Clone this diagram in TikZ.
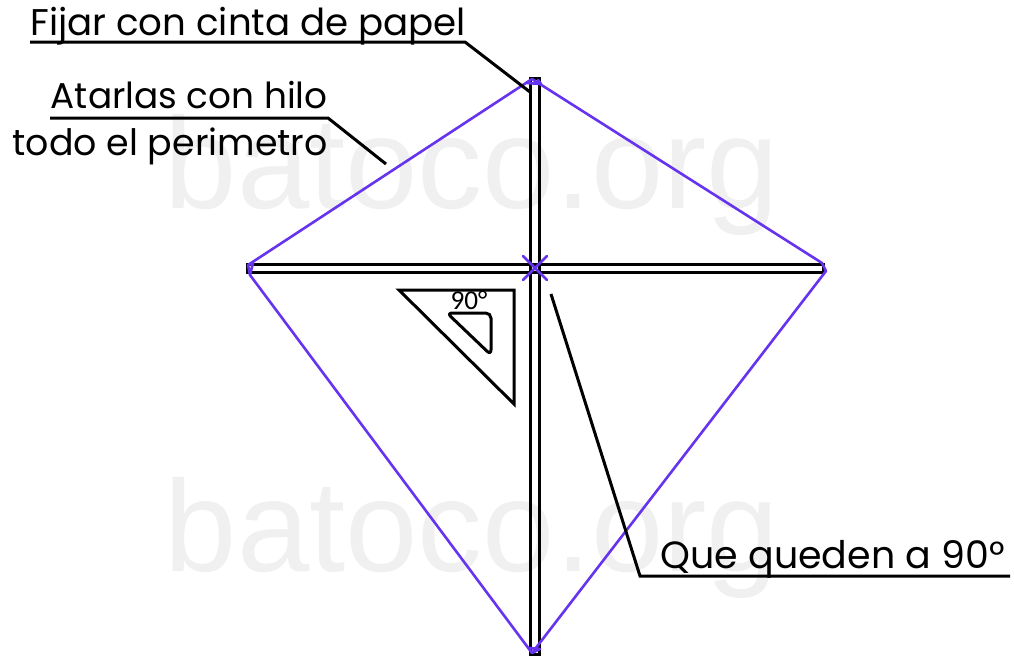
\documentclass[tikz,border=0pt]{standalone}
\usepackage{fontspec}
\setmainfont{Poppins}
\newfontfamily\aguafont{Liberation Sans}
\newfontfamily\angfont{Carlito}
\usepackage{xcolor}
\usetikzlibrary{positioning}
\definecolor{hilo}{HTML}{6633EE}
\definecolor{marca}{HTML}{F0F0F0}
\begin{document}
\begin{tikzpicture}[x=0.02cm,y=-0.02cm,
  every node/.style={inner sep=0pt},
  rotulo/.style={font=\fontsize{#1}{24}\selectfont,text=black},
  agua/.style={font=\aguafont\fontsize{74}{80}\selectfont,text=marca},
  linea/.style={draw=black,line width=0.06cm},
  cuerda/.style={draw=hilo,line width=0.052cm,line cap=round,line join=round}]
  \useasboundingbox (0,0) rectangle (1014,657);
  % marcas de agua
  \node[agua,anchor=base] (agua1) at (472,208) {batoco.org};
  \node[agua,anchor=base] (agua2) at (472,571) {batoco.org};
  % varillas
  \coordinate (v1) at (530.5,78);
  \coordinate (v2) at (539.5,78);
  \coordinate (v3) at (530.5,654);
  \coordinate (v4) at (539.5,654);
  \coordinate (h1) at (247,264.5);
  \coordinate (h2) at (823,264.5);
  \coordinate (h3) at (247,272.5);
  \coordinate (h4) at (823,272.5);
  \draw[linea] (h1) -- (h2) -- (h4) -- (h3) -- cycle;
  \draw[linea] (v1) -- (v2) -- (v4) -- (v3) -- cycle;
  % puntos del hilo
  \coordinate (arriba) at (532,79);
  \coordinate (derecha) at (822,263);
  \coordinate (abajo) at (532,653);
  \coordinate (izquierda) at (248,265);
  \coordinate (centro) at (535,268);
  \draw[cuerda] (arriba) -- (derecha) -- (826,271) -- (abajo) -- (540,649) -- (530,648)
    (abajo) -- (250,275) -- (253,263) -- (izquierda) -- (250,275)
    (izquierda) -- (arriba) -- (526,83) -- (541,84) -- (538,80);
  \draw[cuerda] ([shift={(-12,-12)}]centro) -- ([shift={(12,12)}]centro);
  \draw[cuerda] ([shift={(12,-12)}]centro) -- ([shift={(-12,12)}]centro);
  % escuadra
  \coordinate (e1) at (399,290);
  \coordinate (e2) at (514,290);
  \coordinate (e3) at (514,404);
  \draw[linea,line join=miter] (e1) -- (e2) -- (e3) -- cycle;
  \draw[linea,rounded corners=3pt] (447,313) -- (491,313) -- (491,355) -- cycle;
  \node[font=\angfont\fontsize{15.5}{17}\selectfont,anchor=base] (angulo) at (469,309) {90°};
  % rotulos
  \node[rotulo=21.15,anchor=base west] (fijar) at (30,35) {Fijar con cinta de papel};
  \node[rotulo=20.4,anchor=base east] (atarlas) at (328,108) {Atarlas con hilo};
  \node[rotulo=20.7,anchor=base east] (todo) at (328,155) {todo el perimetro};
  \node[rotulo=21.6,anchor=base east] (queden) at (1005,568) {Que queden a 90°};
  % guias
  \coordinate (g1a) at (30,42);
  \coordinate (g1b) at (465,42);
  \coordinate (g1c) at (530,92);
  \coordinate (g2a) at (50,118);
  \coordinate (g2b) at (328,118);
  \coordinate (g2c) at (386,164);
  \coordinate (g3a) at (1010,576);
  \coordinate (g3b) at (640,576);
  \coordinate (g3c) at (551,294);
  \draw[linea] (g1a) -- (g1b) -- (g1c);
  \draw[linea] (g2a) -- (g2b) -- (g2c);
  \draw[linea] (g3a) -- (g3b) -- (g3c);
\end{tikzpicture}
\end{document}
